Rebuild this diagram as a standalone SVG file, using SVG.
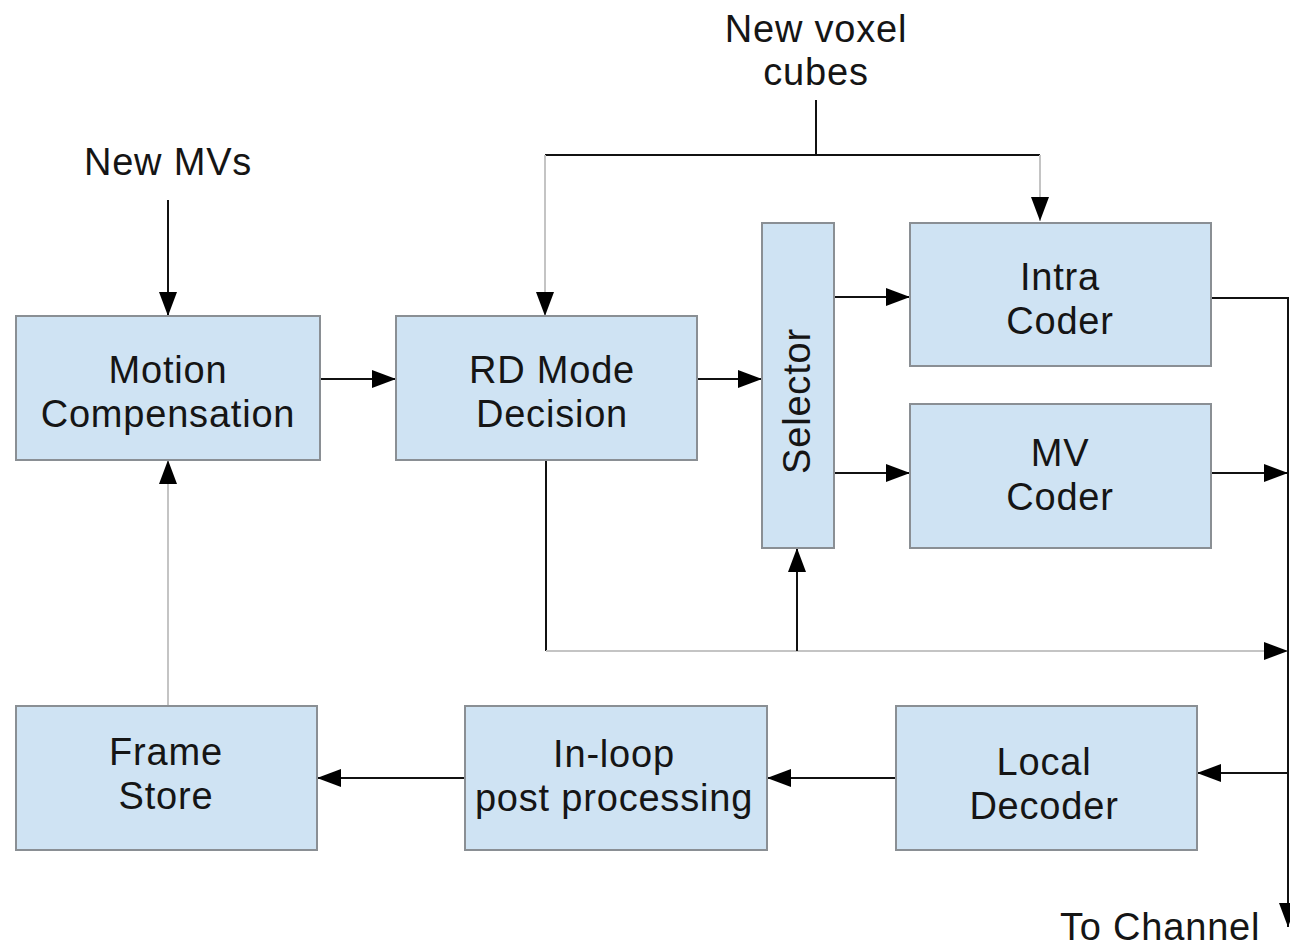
<svg xmlns="http://www.w3.org/2000/svg" width="1290" height="948" viewBox="0 0 1290 948">
  <style>
    .box { fill: #cfe3f3; stroke: #8a8f94; stroke-width: 2; }
    .lbl { font-family: "Liberation Sans", Arial, sans-serif; font-size: 38px; letter-spacing: 0.8px; fill: #151515; text-anchor: middle; }
    .free { font-family: "Liberation Sans", Arial, sans-serif; font-size: 38px; letter-spacing: 0.8px; fill: #151515; }
    .wire { fill: none; stroke: #111; stroke-width: 2; }
    .wire.light { stroke: #c4c4c4; }
  </style>
  <defs>
    <marker id="arrow" viewBox="0 0 24 18" refX="24" refY="9" markerWidth="24" markerHeight="18" markerUnits="userSpaceOnUse" orient="auto">
      <path d="M0,0 L24,9 L0,18 Z" fill="#000"/>
    </marker>
  </defs>

  <rect width="1290" height="948" fill="#fff"/>

  <!-- connectors -->
  <g id="connectors">
    <!-- new voxel cubes feed -->
    <path class="wire" d="M816,100 V155"/>
    <path class="wire" d="M545,155 H1040"/>
    <path class="wire light" d="M545,155 V316" marker-end="url(#arrow)"/>
    <path class="wire light" d="M1040,155 V221" marker-end="url(#arrow)"/>
    <!-- new MVs -->
    <path class="wire" d="M168,200 V316" marker-end="url(#arrow)"/>
    <!-- forward path -->
    <path class="wire" d="M320,379 H396" marker-end="url(#arrow)"/>
    <path class="wire" d="M697,379 H762" marker-end="url(#arrow)"/>
    <path class="wire" d="M834,297 H910" marker-end="url(#arrow)"/>
    <path class="wire" d="M834,473 H910" marker-end="url(#arrow)"/>
    <!-- mode decision side output -->
    <path class="wire" d="M546,460 V651"/>
    <path class="wire light" d="M546,651 H1288" marker-end="url(#arrow)"/>
    <path class="wire" d="M797,651 V548" marker-end="url(#arrow)"/>
    <!-- channel bus -->
    <path class="wire" d="M1211,298 H1288 V927" marker-end="url(#arrow)"/>
    <path class="wire" d="M1211,473 H1288" marker-end="url(#arrow)"/>
    <path class="wire" d="M1288,773 H1197" marker-end="url(#arrow)"/>
    <!-- reconstruction loop -->
    <path class="wire" d="M896,778 H767" marker-end="url(#arrow)"/>
    <path class="wire" d="M465,778 H317" marker-end="url(#arrow)"/>
    <path class="wire light" d="M168,706 V460" marker-end="url(#arrow)"/>
  </g>

  <!-- free labels -->
  <g id="label-voxel">
    <text class="lbl" x="816" y="42">New voxel</text>
    <text class="lbl" x="816" y="85">cubes</text>
  </g>
  <g id="label-mvs">
    <text class="lbl" x="168" y="175">New MVs</text>
  </g>
  <g id="label-channel">
    <text class="free" x="1060" y="940">To Channel</text>
  </g>

  <!-- nodes -->
  <g id="motion-compensation">
    <rect class="box" x="16" y="316" width="304" height="144"/>
    <text class="lbl" x="168" y="383">Motion</text>
    <text class="lbl" x="168" y="427">Compensation</text>
  </g>
  <g id="rd-mode-decision">
    <rect class="box" x="396" y="316" width="301" height="144"/>
    <text class="lbl" x="552" y="383">RD Mode</text>
    <text class="lbl" x="552" y="427">Decision</text>
  </g>
  <g id="selector">
    <rect class="box" x="762" y="223" width="72" height="325"/>
    <text class="lbl" transform="translate(810,401) rotate(-90)">Selector</text>
  </g>
  <g id="intra-coder">
    <rect class="box" x="910" y="223" width="301" height="143"/>
    <text class="lbl" x="1060" y="290">Intra</text>
    <text class="lbl" x="1060" y="334">Coder</text>
  </g>
  <g id="mv-coder">
    <rect class="box" x="910" y="404" width="301" height="144"/>
    <text class="lbl" x="1060" y="466">MV</text>
    <text class="lbl" x="1060" y="510">Coder</text>
  </g>
  <g id="frame-store">
    <rect class="box" x="16" y="706" width="301" height="144"/>
    <text class="lbl" x="166" y="765">Frame</text>
    <text class="lbl" x="166" y="809">Store</text>
  </g>
  <g id="in-loop-post-processing">
    <rect class="box" x="465" y="706" width="302" height="144"/>
    <text class="lbl" x="614" y="767">In-loop</text>
    <text class="lbl" x="614" y="811">post processing</text>
  </g>
  <g id="local-decoder">
    <rect class="box" x="896" y="706" width="301" height="144"/>
    <text class="lbl" x="1044" y="775">Local</text>
    <text class="lbl" x="1044" y="819">Decoder</text>
  </g>
</svg>
